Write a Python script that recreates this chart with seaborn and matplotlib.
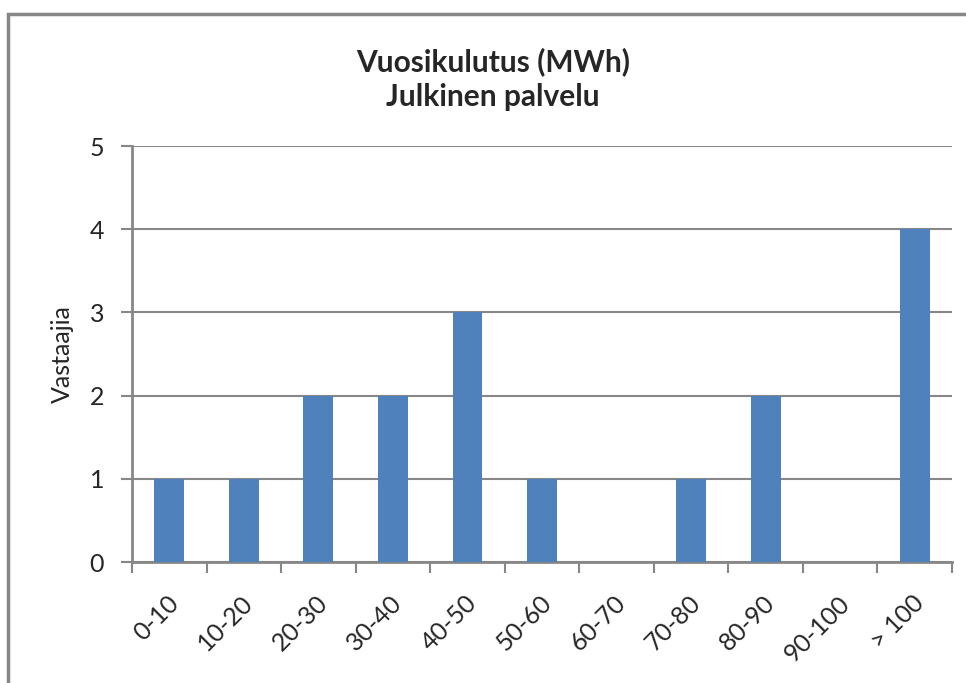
import matplotlib
matplotlib.use("Agg")
import matplotlib.pyplot as plt
import matplotlib.transforms as mtransforms
import numpy as np
import pandas as pd
import seaborn as sns
from matplotlib.patches import Rectangle

# Data
categories = ["0-10", "10-20", "20-30", "30-40", "40-50", "50-60",
              "60-70", "70-80", "80-90", "90-100", "> 100"]
respondents = [1, 1, 2, 2, 3, 1, 0, 1, 2, 0, 4]
title = "Vuosikulutus (MWh)\nJulkinen palvelu"
ylabel = "Vastaajia"

df = pd.DataFrame({"luokka": categories, "vastaajia": respondents})

# Style
sns.set_style("white")
plt.rcParams["font.family"] = ["Lato", "DejaVu Sans"]
grey = "#878787"
bar_color = "#4F81BD"

fig = plt.figure(figsize=(9.66, 6.83), dpi=100)
ax = fig.add_axes([132 / 966, 1 - 562 / 683, (952 - 132) / 966, (562 - 146) / 683])

sns.barplot(data=df, x="luokka", y="vastaajia", color=bar_color, width=0.4,
            saturation=1, linewidth=0, ax=ax, zorder=3)

# Axes
ax.set_xlim(-0.5, len(categories) - 0.5)
ax.set_ylim(0, 5)
ax.set_yticks(range(0, 6))
ax.yaxis.grid(True, color=grey, linewidth=1.5, zorder=0)
ax.set_axisbelow(True)

ax.set_xticks(np.arange(-0.5, len(categories), 1))
ax.set_xticklabels([])
ax.set_xticks(np.arange(len(categories)), minor=True)
ax.set_xticklabels(categories, minor=True, rotation=45, ha="right",
                   va="center", rotation_mode="anchor", fontsize=18)
ax.tick_params(axis="x", which="major", direction="out", length=8, width=1.5,
               color=grey, bottom=True)
ax.tick_params(axis="x", which="minor", length=0, pad=27)
ax.tick_params(axis="y", direction="out", length=8, width=1.5, color=grey,
               left=True, labelsize=18, pad=12)

# nudge rotated labels slightly to the right
shift = mtransforms.ScaledTranslation(4 / 72, 0, fig.dpi_scale_trans)
for lbl in ax.get_xticklabels(minor=True):
    lbl.set_transform(lbl.get_transform() + shift)

for side in ["top", "right"]:
    ax.spines[side].set_visible(False)
for side in ["left", "bottom"]:
    ax.spines[side].set_color(grey)
    ax.spines[side].set_linewidth(2)

ax.set_xlabel("")
ax.set_ylabel(ylabel, fontsize=18, labelpad=11)

fig.text(493 / 966, 1 - 79 / 683, title, ha="center", va="center",
         fontsize=21.5, fontweight="bold", linespacing=1.3)

# Chart border (only top and left visible in the crop)
fig.patches.append(Rectangle((8 / 966, -0.1), 1.2, 1 - 14 / 683 + 0.1,
                             transform=fig.transFigure, fill=False,
                             edgecolor=grey, linewidth=2.5))

fig.savefig("out.png", dpi=100)
